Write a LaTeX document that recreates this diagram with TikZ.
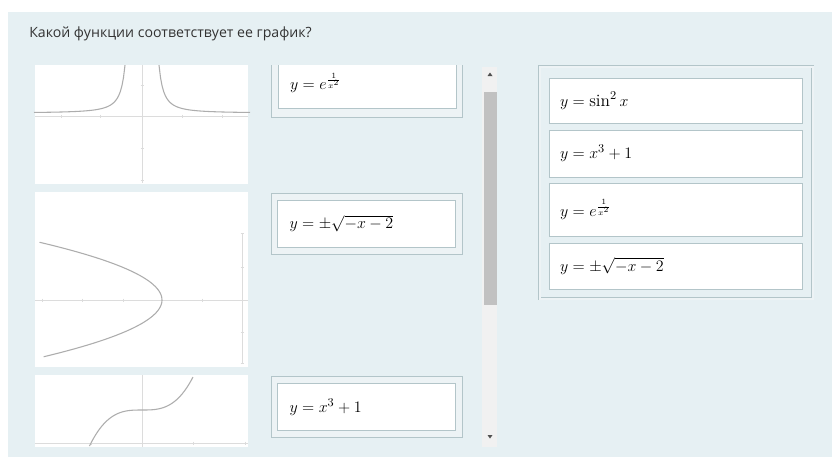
\documentclass[tikz,border=0pt]{standalone}
\usepackage{amsmath}
\usepackage{fontspec}
\newfontfamily\uifont{Open Sans}
\usetikzlibrary{positioning}

\definecolor{panel}{HTML}{E6F0F3}
\definecolor{band}{HTML}{EDF3F5}
\definecolor{frame}{HTML}{B3C5C9}
\definecolor{axisgray}{HTML}{DCDCDC}
\definecolor{curvegray}{HTML}{ADADAD}
\definecolor{track}{HTML}{F1F1F1}
\definecolor{thumb}{HTML}{C1C1C1}
\definecolor{arrowtip}{HTML}{505050}
\definecolor{ink}{HTML}{333333}
\newcommand{\mathsize}{\fontsize{13}{15}\selectfont}

\begin{document}
\begin{tikzpicture}[x=0.75pt,y=-0.75pt,
		outer/.style={rectangle,draw=frame,fill=band,inner sep=0pt,minimum width=143.25pt,minimum height=45.75pt},
		slot/.style={rectangle,draw=frame,fill=white,inner xsep=9pt,text width=115.5pt,minimum height=35.25pt,align=left,font=\mathsize},
		item/.style={rectangle,draw=frame,fill=white,inner xsep=8.25pt,text width=173.25pt,align=left,font=\mathsize},
		axis/.style={draw=axisgray,line width=0.5pt},
		curve/.style={draw=curvegray,line width=0.8pt},
		node distance=4.5pt]

	\useasboundingbox (0,0) rectangle (832,462);
	\fill[white] (0,0) rectangle (832,462);
	\fill[panel] (8,12) rectangle (832,457);

	\node[anchor=west,inner sep=0pt,text=ink,font=\uifont\fontsize{10.6}{12}\selectfont] (question) at (29,34) {Какой функции соответствует ее график?};

	\begin{scope} %left column, scrolled
		\clip (30,65) rectangle (470,447);

		\fill[white] (35,50) rectangle (248,184);
		\draw[axis] (35,116) -- (248,116) (142,50) -- (142,183);
		\foreach \p in {61,100,182,222} \draw[axis] (\p,114.5) -- (\p,117.5);
		\foreach \p in {85,148,180} \draw[axis] (140.5,\p) -- (143.5,\p);
		\draw[curve] plot[domain=0.85:5.4,samples=60] ({142+20*\x},{113-16*(exp(1/(\x*\x))-1)});
		\draw[curve] plot[domain=0.85:5.4,samples=60] ({142-20*\x},{113-16*(exp(1/(\x*\x))-1)});

		\fill[white] (35,192) rectangle (248,367);
		\draw[axis] (35,300) -- (248,300) (242,233) -- (242,363);
		\foreach \p in {42,82,123,202} \draw[axis] (\p,298.5) -- (\p,301.5);
		\foreach \p in {233,267,332,363} \draw[axis] (240.5,\p) -- (243.5,\p);
		\draw[curve] plot[domain=-1.72:1.75,samples=60] ({242-40*((\x)*(\x)+2)},{300-33*\x});

		\fill[white] (35,375) rectangle (248,447);
		\draw[axis] (35,443) -- (248,443) (142,375) -- (142,447);
		\foreach \p in {91,193,245} \draw[axis] (\p,441.5) -- (\p,444.5);
		\draw[curve] plot[domain=-1.03:1,samples=50] ({142+51*\x},{443-33*((\x)*(\x)*(\x)+1)});

		\node[outer,minimum height=51.75pt] (frameexp) at (366.5,82.5) {};
		\node[slot,minimum height=37.5pt] (slotexp) at (367,83) {$y=e^{\frac{1}{x^2}}$};
		\node[outer] (frameroot) at (366.5,223.5) {};
		\node[slot] (slotroot) at (frameroot.center) {$y=\pm\sqrt{-x-2}$};
		\node[outer] (framecube) at (366.5,407) {};
		\node[slot] (slotcube) at (framecube.center) {$y=x^3+1$};
	\end{scope}

	%scrollbar
	\fill[track] (482,67) rectangle (497,447);
	\fill[thumb] (484,92) rectangle (497,305);
	\fill[arrowtip] (487.5,76) -- (492.5,76) -- (490,72.5) -- cycle;
	\fill[arrowtip] (487.5,435) -- (492.5,435) -- (490,438.5) -- cycle;

	\node[rectangle,draw=frame,double=band,double distance=1.5pt,minimum width=204.75pt,minimum height=174pt] (answers) at (676,182.5) {};
	\node[item,minimum height=33.75pt,anchor=north] (sinsq) at (675.5,78) {$y=\sin^2 x$};
	\node[item,minimum height=35.25pt] (cube) [below=of sinsq] {$y=x^3+1$};
	\node[item,minimum height=39.75pt] (expo) [below=of cube] {$y=e^{\frac{1}{x^2}}$};
	\node[item,minimum height=34.5pt] (root) [below=of expo] {$y=\pm\sqrt{-x-2}$};
\end{tikzpicture}
\end{document}
